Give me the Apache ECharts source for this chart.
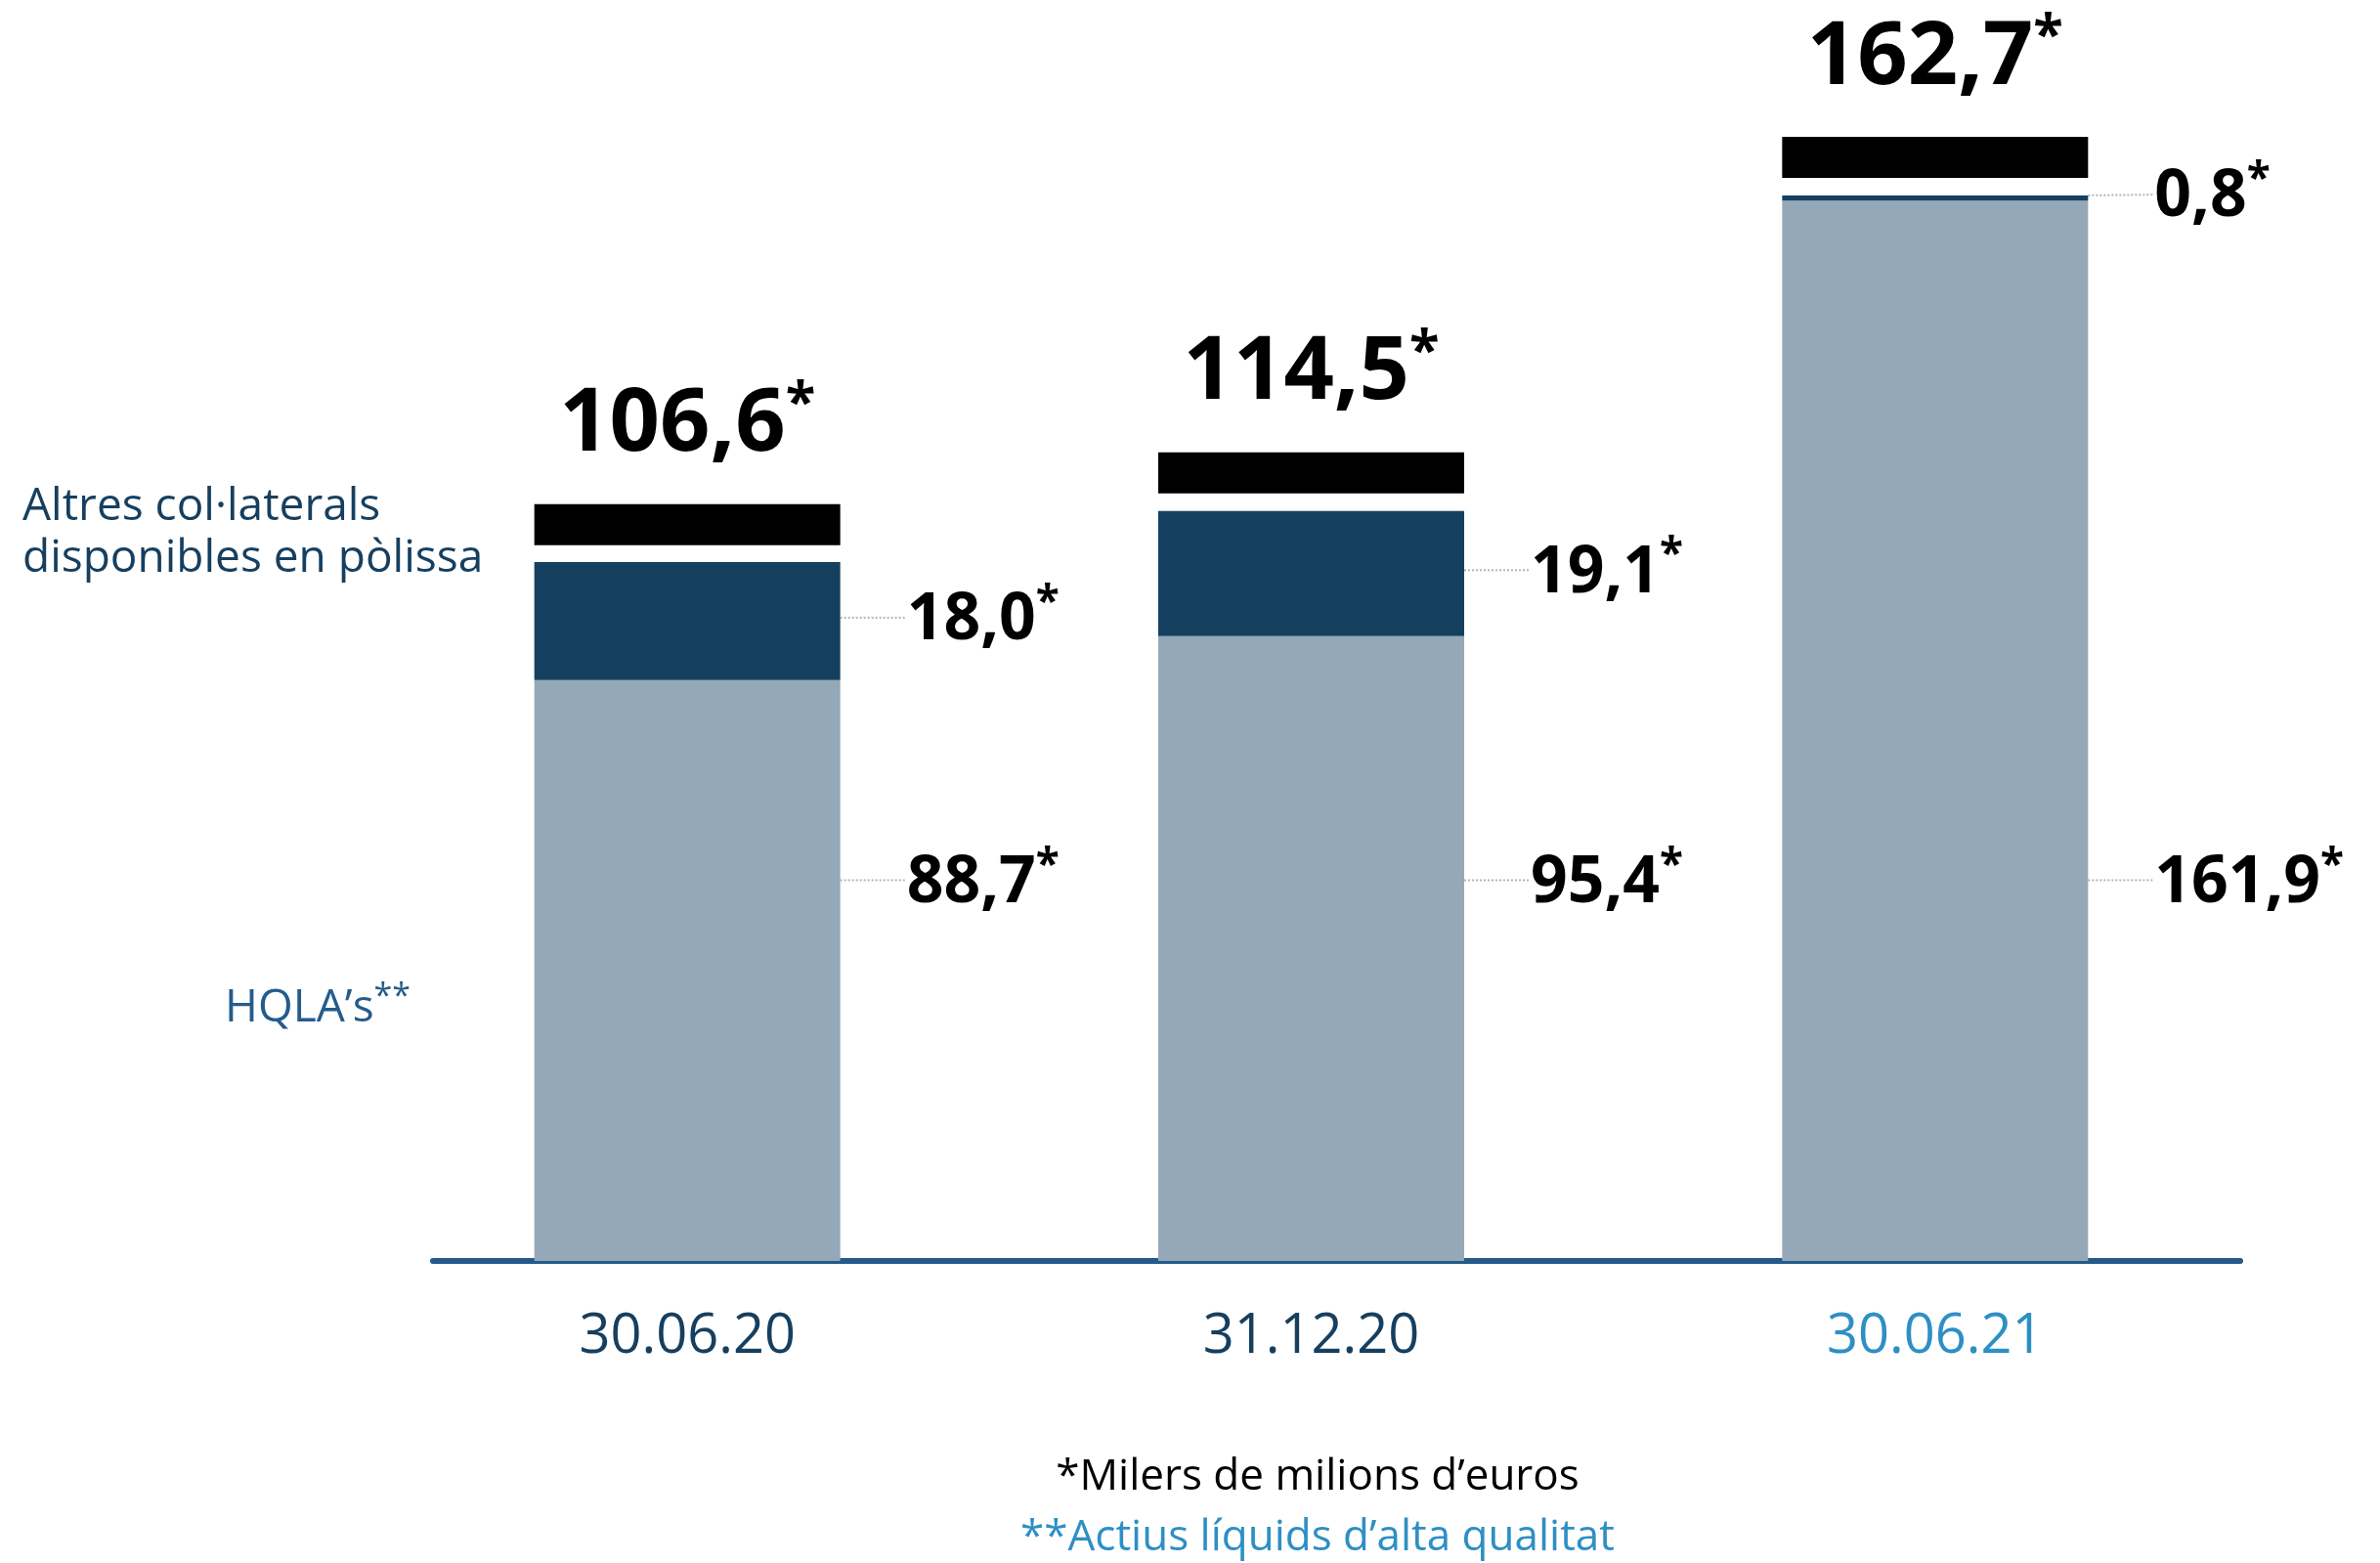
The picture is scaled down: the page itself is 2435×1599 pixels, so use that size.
<!DOCTYPE html>
<html><head><meta charset="utf-8">
<script src="https://cdn.jsdelivr.net/npm/echarts@6/dist/echarts.min.js"></script>
<style>html,body{margin:0;padding:0;background:#fff;}#c{width:2435px;height:1599px;}</style>
</head><body><div id="c"></div>
<script>
const categories = ['30.06.20', '31.12.20', '30.06.21'];
const hqla = [88.7, 95.4, 161.9];
const altres = [18.0, 19.1, 0.8];
const totals = [106.6, 114.5, 162.7];
const seriesNames = ['HQLA’s', 'Altres col·laterals\ndisponibles en pòlissa'];
const footnotes = ['*Milers de milions d’euros', '**Actius líquids d’alta qualitat'];

const fmt = v => Number(v).toFixed(1).replace('.', ',');
const FONT = '"Open Sans", "Noto Sans", sans-serif';
const CAP_GAP = 18, CAP_H = 42, BAR_W = 313;
const NAVY = '#163f5f', MID = '#245c8c', LIGHT = '#2e8fc4';

const chart = echarts.init(document.getElementById('c'));

const segLabel = {
  show: true, position: 'right', distance: 0, padding: [0, 0, 0, 12],
  formatter: p => '{v|' + fmt(p.value) + '}{s|*}',
  rich: {
    v: {fontFamily: FONT, fontWeight: 'bold', fontSize: 66, color: '#000', lineHeight: 80},
    s: {fontFamily: FONT, fontWeight: 'bold', fontSize: 44, color: '#000', lineHeight: 56, verticalAlign: 'top'}
  }
};
const segLine = {show: true, lineStyle: {color: '#b5b5b5', width: 2, type: 'dotted'}};
const axisLineStyle = {lineStyle: {color: '#235a8a', width: 6}};

chart.setOption({
  animation: false,
  backgroundColor: '#fff',
  grid: [
    {left: 384, right: 136, top: 84, bottom: 309, containLabel: false},
    {left: 443, right: 143, top: 84, bottom: 309, containLabel: false}
  ],
  xAxis: [
    {
      type: 'category', data: categories, gridIndex: 0,
      axisLine: {show: false},
      axisTick: {show: false},
      axisLabel: {margin: 50, fontFamily: FONT, fontSize: 56,
        color: (v, i) => i === 2 ? LIGHT : NAVY}
    },
    {
      type: 'category', data: categories, gridIndex: 1,
      axisLine: axisLineStyle, axisTick: {show: false}, axisLabel: {show: false}
    }
  ],
  yAxis: [
    {type: 'value', min: 0, max: 180, show: false, splitLine: {show: false}, gridIndex: 0},
    {type: 'value', min: 0, max: 180, show: false, splitLine: {show: false}, gridIndex: 1}
  ],
  series: [
    {type: 'bar', name: 'HQLA', stack: 'a', data: hqla, barWidth: BAR_W,
      itemStyle: {color: '#94a8b8'}, label: segLabel, labelLine: segLine,
      labelLayout: p => ({dx: 56, y: p.rect.y + p.rect.height - 386, verticalAlign: 'middle'})},
    {type: 'bar', name: 'Altres', stack: 'a', data: altres, barWidth: BAR_W,
      itemStyle: {color: '#153f5f'}, label: segLabel, labelLine: segLine, labelLayout: {dx: 56}},
    {type: 'custom', name: 'Total', data: totals.map((t, i) => [i, t]), z: 3,
      renderItem: (params, api) => {
        const pt = api.coord([api.value(0), api.value(1)]);
        const top = pt[1] - CAP_GAP - CAP_H;
        return {type: 'group', children: [
          {type: 'rect', shape: {x: pt[0] - BAR_W / 2, y: top, width: BAR_W, height: CAP_H}, style: {fill: '#000'}},
          {type: 'text', x: pt[0], y: top - 30, style: {
            text: '{v|' + fmt(api.value(1)) + '}{s|*}', align: 'center', verticalAlign: 'bottom',
            rich: {
              v: {fontFamily: FONT, fontWeight: 'bold', fontSize: 90, fill: '#000', lineHeight: 100},
              s: {fontFamily: FONT, fontWeight: 'bold', fontSize: 56, fill: '#000', lineHeight: 66, verticalAlign: 'top'}
            }}}
        ]};
      }}
  ],
  graphic: [
    {type: 'text', left: 23, top: 492, style: {text: seriesNames[1], fontFamily: FONT, fontSize: 46, lineHeight: 53, fill: NAVY}},
    {type: 'text', right: 2435 - 420, top: 1003, style: {
      text: '{a|' + seriesNames[0] + '}{b|**}',
      rich: {a: {fontFamily: FONT, fontSize: 46, fill: MID, lineHeight: 58}, b: {fontFamily: FONT, fontSize: 34, fill: MID, lineHeight: 42, verticalAlign: 'top'}}}},
    {type: 'text', x: 1348, y: 1511, style: {text: footnotes[0], fontFamily: FONT, fontSize: 44, fill: '#000', align: 'center', verticalAlign: 'middle'}},
    {type: 'text', x: 1348, y: 1573, style: {text: footnotes[1], fontFamily: FONT, fontSize: 44, fill: LIGHT, align: 'center', verticalAlign: 'middle'}}
  ]
});
</script></body></html>
